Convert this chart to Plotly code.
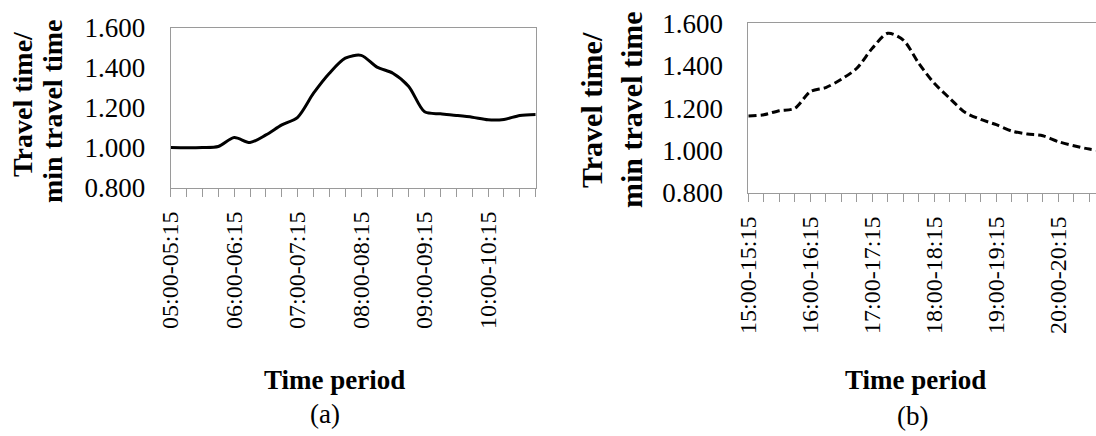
import plotly.graph_objects as go

# ---- data ----
cats_a = ["05:00-05:15", "05:15-05:30", "05:30-05:45", "05:45-06:00",
          "06:00-06:15", "06:15-06:30", "06:30-06:45", "06:45-07:00",
          "07:00-07:15", "07:15-07:30", "07:30-07:45", "07:45-08:00",
          "08:00-08:15", "08:15-08:30", "08:30-08:45", "08:45-09:00",
          "09:00-09:15", "09:15-09:30", "09:30-09:45", "09:45-10:00",
          "10:00-10:15", "10:15-10:30", "10:30-10:45", "10:45-11:00"]
vals_a = [1.002, 1.001, 1.002, 1.007, 1.052, 1.027, 1.065, 1.115,
          1.153, 1.273, 1.373, 1.448, 1.462, 1.403, 1.373, 1.307,
          1.180, 1.170, 1.162, 1.153, 1.140, 1.142, 1.162, 1.167]

cats_b = ["15:00-15:15", "15:15-15:30", "15:30-15:45", "15:45-16:00",
          "16:00-16:15", "16:15-16:30", "16:30-16:45", "16:45-17:00",
          "17:00-17:15", "17:15-17:30", "17:30-17:45", "17:45-18:00",
          "18:00-18:15", "18:15-18:30", "18:30-18:45", "18:45-19:00",
          "19:00-19:15", "19:15-19:30", "19:30-19:45", "19:45-20:00",
          "20:00-20:15", "20:15-20:30", "20:30-20:45", "20:45-21:00"]
vals_b = [1.163, 1.169, 1.188, 1.199, 1.278, 1.297, 1.336, 1.388,
          1.482, 1.553, 1.521, 1.411, 1.317, 1.246, 1.179, 1.147,
          1.122, 1.092, 1.078, 1.070, 1.042, 1.023, 1.007, 0.998]

shown_a = ["05:00-05:15", "06:00-06:15", "07:00-07:15", "08:00-08:15",
           "09:00-09:15", "10:00-10:15"]
shown_b = ["15:00-15:15", "16:00-16:15", "17:00-17:15", "18:00-18:15",
           "19:00-19:15", "20:00-20:15"]

y_title_1 = "Travel time/"
y_title_2 = "min travel time"
x_title = "Time period"

# ---- figure ----
W, H = 1096, 436
SERIF = "Liberation Serif"
GRAY = "#9a9a9a"

def px_x(v):
    return v / W

def px_y(v):
    return 1 - v / H

fig = go.Figure()
fig.add_trace(go.Scatter(x=cats_a, y=vals_a, mode="lines", xaxis="x", yaxis="y",
                         line=dict(color="black", width=3, shape="spline", smoothing=0.8),
                         showlegend=False, hoverinfo="skip"))
fig.add_trace(go.Scatter(x=cats_b, y=vals_b, mode="lines", xaxis="x2", yaxis="y2",
                         line=dict(color="black", width=3, shape="spline", smoothing=0.8,
                                   dash="8px,4px"),
                         showlegend=False, hoverinfo="skip"))

def xax(cats, shown, domain, rng, anchor):
    return dict(domain=domain, anchor=anchor, type="category",
                categoryorder="array", categoryarray=cats,
                range=rng, tickmode="array", tickvals=cats,
                ticktext=[c if c in shown else "" for c in cats],
                tickangle=-90, ticks="outside", ticklen=8, tickcolor=GRAY,
                tickwidth=1, showline=True, linecolor=GRAY, linewidth=1,
                mirror=True, showgrid=False, zeroline=False, automargin=False,
                tickfont=dict(family=SERIF, size=24, color="black"),
                ticklabelstandoff=5)

def yax(domain, anchor, mirror):
    return dict(domain=domain, anchor=anchor, range=[0.8, 1.6], dtick=0.2,
                tick0=0.8, tickformat=".3f", showline=True, linecolor=GRAY,
                linewidth=1, mirror=mirror, showgrid=False, zeroline=False,
                automargin=False, ticks="",
                tickfont=dict(family=SERIF, size=27, color="black"),
                ticklabelstandoff=19)

left_dom_x = [px_x(170.7), px_x(535.7)]
left_dom_y = [px_y(188.0), px_y(27.7)]
right_dom_x = [px_x(748.3), 1.0]
right_dom_y = [px_y(193.0), px_y(23.3)]

# right panel is cropped at the image edge (tick spacing 15.5 px)
right_end = (W - 748.3) / 15.5

fig.update_layout(
    template="none",
    width=W, height=H, margin=dict(l=0, r=0, t=0, b=0, pad=0),
    paper_bgcolor="white", plot_bgcolor="white",
    font=dict(family=SERIF, color="black"),
    hovermode=False,
    xaxis=xax(cats_a, shown_a, left_dom_x, [0, len(cats_a) - 1], "y"),
    yaxis=yax(left_dom_y, "x", True),
    xaxis2=xax(cats_b, shown_b, right_dom_x, [0, right_end], "y2"),
    yaxis2=yax(right_dom_y, "x2", False),
)

def ann(text, x, y, size, bold=False, angle=0):
    fig.add_annotation(text=f"<b>{text}</b>" if bold else text,
                       x=px_x(x), y=px_y(y), xref="paper", yref="paper",
                       xanchor="center", yanchor="middle", showarrow=False,
                       textangle=angle,
                       font=dict(family=SERIF, size=size, color="black"))

# panel (a)
ann(y_title_1, 22, 104, 28, bold=True, angle=-90)
ann(y_title_2, 53, 111, 28, bold=True, angle=-90)
ann(x_title, 335, 380, 27, bold=True)
ann("(a)", 325, 414, 27)
# panel (b)
ann(y_title_1, 592, 110, 30, bold=True, angle=-90)
ann(y_title_2, 632, 110, 30, bold=True, angle=-90)
ann(x_title, 915, 380, 27, bold=True)
ann("(b)", 912, 416, 27)

fig.write_html(
    "out.html",
    config={"displayModeBar": False, "staticPlot": True},
    post_script="document.body.style.margin='0px';"
                "document.documentElement.style.overflow='hidden';",
)
